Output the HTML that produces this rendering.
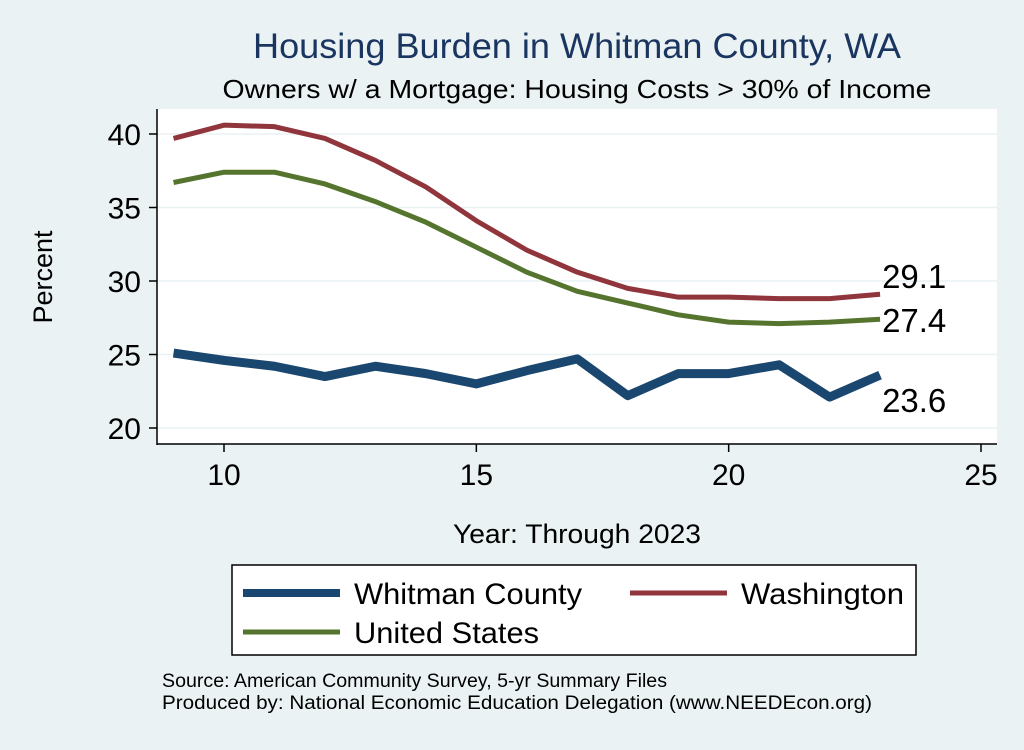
<!DOCTYPE html>
<html><head><meta charset="utf-8"><style>
body{margin:0;background:#eaf2f3;font-family:"Liberation Sans",sans-serif}
</style></head><body>
<svg width="1024" height="745" xmlns="http://www.w3.org/2000/svg" font-family="Liberation Sans, sans-serif">
<rect width="1024" height="745" fill="#eaf2f3"/>
<text x="577" y="58" font-size="35" fill="#1a3560" text-anchor="middle" textLength="648" lengthAdjust="spacingAndGlyphs">Housing Burden in Whitman County, WA</text>
<text x="577" y="98" font-size="26" fill="#000" text-anchor="middle" textLength="709" lengthAdjust="spacingAndGlyphs">Owners w/ a Mortgage: Housing Costs &gt; 30% of Income</text>
<rect x="157" y="109" width="840" height="335" fill="#fff"/>
<g id="grid"></g>
<g id="series"></g>
<line x1="157" y1="109" x2="157" y2="445" stroke="#000" stroke-width="1.5"/>
<line x1="157" y1="444" x2="997" y2="444" stroke="#000" stroke-width="1.5"/>
<g id="ticks"></g>
<text x="52" y="277" font-size="27" text-anchor="middle" transform="rotate(-90 52 277)">Percent</text>
<text x="577" y="543" font-size="27" text-anchor="middle" textLength="248" lengthAdjust="spacingAndGlyphs">Year: Through 2023</text>
<g>
<rect x="232" y="565" width="684" height="90" fill="#fff" stroke="#000" stroke-width="1.5"/>
<line x1="243" y1="593" x2="340" y2="593" stroke="#1a476f" stroke-width="8"/>
<text x="354" y="604" font-size="30" textLength="228" lengthAdjust="spacingAndGlyphs">Whitman County</text>
<line x1="630" y1="593" x2="727" y2="593" stroke="#90353b" stroke-width="5"/>
<text x="741" y="604" font-size="30" textLength="163" lengthAdjust="spacingAndGlyphs">Washington</text>
<line x1="243" y1="632" x2="340" y2="632" stroke="#55752f" stroke-width="5"/>
<text x="354" y="643" font-size="30" textLength="185" lengthAdjust="spacingAndGlyphs">United States</text>
</g>
<text x="162" y="687" font-size="19" textLength="505" lengthAdjust="spacingAndGlyphs">Source: American Community Survey, 5-yr Summary Files</text>
<text x="162" y="709" font-size="19" textLength="710" lengthAdjust="spacingAndGlyphs">Produced by: National Economic Education Delegation (www.NEEDEcon.org)</text>
</svg>
<script>
const years=[9,10,11,12,13,14,15,16,17,18,19,20,21,22,23];
const whitman=[25.1,24.6,24.2,23.5,24.2,23.7,23.0,23.9,24.7,22.2,23.7,23.7,24.3,22.1,23.6];
const washington=[39.7,40.6,40.5,39.7,38.2,36.4,34.1,32.1,30.6,29.5,28.9,28.9,28.8,28.8,29.1];
const us=[36.7,37.4,37.4,36.6,35.4,34.0,32.3,30.6,29.3,28.5,27.7,27.2,27.1,27.2,27.4];
const yTicks=[20,25,30,35,40];
const xTicks=[10,15,20,25];
const NS="http://www.w3.org/2000/svg";
const xs=v=>224+(v-10)*(981-224)/15;
const ys=v=>428-(v-20)*(428-134)/20;
function mk(t,a,p){const e=document.createElementNS(NS,t);for(const k in a)e.setAttribute(k,a[k]);p.appendChild(e);return e;}
const grid=document.getElementById('grid'),ticks=document.getElementById('ticks'),ser=document.getElementById('series');
yTicks.forEach(v=>{
const g=mk('line',{x1:157,x2:997,y1:ys(v),y2:ys(v),stroke:'#eaf2f3','stroke-width':1.5},grid);


const t=mk('line',{x1:149,x2:157,y1:ys(v),y2:ys(v),stroke:'#000','stroke-width':1.5},ticks);


const l=mk('text',{x:141,y:ys(v)+11,'font-size':30,'text-anchor':'end'},ticks);l.textContent=v;


});
xTicks.forEach(v=>{
const t=mk('line',{x1:xs(v),x2:xs(v),y1:444,y2:452,stroke:'#000','stroke-width':1.5},ticks);


const l=mk('text',{x:xs(v),y:485,'font-size':30,'text-anchor':'middle'},ticks);l.textContent=v;


});
function line(data,color,w,name){
const p=mk('polyline',{points:data.map((v,i)=>xs(years[i])+','+ys(v)).join(' '),fill:'none',stroke:color,'stroke-width':w,'stroke-linejoin':'round'},ser);


}
line(us,'#55752f',5,'line-united-states');
line(washington,'#90353b',5,'line-washington');
line(whitman,'#1a476f',9,'line-whitman-county');
const last=years.length-1;
const lx=xs(years[last]);
function lab(v,dy,name){const t=mk('text',{x:lx+2,y:ys(v)+dy,'font-size':33},ser);t.textContent=v.toFixed(1);

}
lab(washington[last],-6,'label-washington-last');
lab(us[last],13,'label-us-last');
lab(whitman[last],37,'label-whitman-last');
</script>
</body></html>
